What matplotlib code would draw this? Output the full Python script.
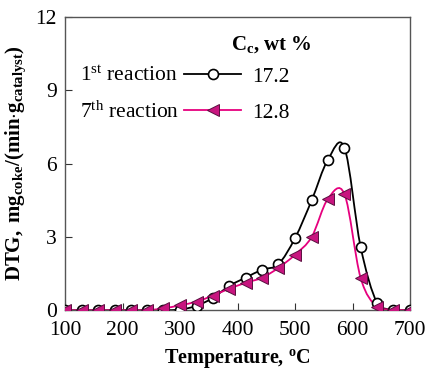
import numpy as np
import matplotlib
matplotlib.use("Agg")
import matplotlib.pyplot as plt
from matplotlib.path import Path
from matplotlib.patches import PathPatch

plt.rcParams['font.family'] = ['Liberation Serif', 'DejaVu Serif']
plt.rcParams['mathtext.fontset'] = 'custom'
plt.rcParams['mathtext.rm'] = 'Liberation Serif'
plt.rcParams['mathtext.it'] = 'Liberation Serif:italic'
plt.rcParams['mathtext.bf'] = 'Liberation Serif:bold'

# Data
temperature = [100, 129, 157, 186, 214, 243, 271, 300, 329, 357, 386,
               414, 443, 471, 500, 529, 557, 586, 614, 643, 671, 700]
dtg_1st = [0.0, 0.0, 0.0, 0.0, 0.0, 0.0, 0.0, 0.02, 0.18, 0.5, 1.0,
           1.33, 1.66, 1.88, 2.95, 4.5, 6.15, 6.65, 2.6, 0.28, 0.0, 0.0]
dtg_7th = [0.0, 0.0, 0.0, 0.0, 0.0, 0.0, 0.07, 0.2, 0.35, 0.6, 0.88,
           1.12, 1.33, 1.73, 2.27, 3.0, 4.55, 4.75, 1.33, 0.12, 0.02, 0.0]
series_labels = ["17.2", "12.8"]
reaction_labels = [r"1$^{\mathrm{st}}$ reaction", r"7$^{\mathrm{th}}$ reaction"]

black = "#000000"
pink = "#E6007E"
pink_face = "#C8157F"

def smooth_path(xs, ys):
    xs = np.asarray(xs, float); ys = np.asarray(ys, float)
    verts = [(xs[0], ys[0])]
    codes = [Path.MOVETO]
    n = len(xs)
    for i in range(n - 1):
        x0, y0 = (xs[i-1], ys[i-1]) if i > 0 else (xs[i], ys[i])
        x1, y1 = xs[i], ys[i]
        x2, y2 = xs[i+1], ys[i+1]
        x3, y3 = (xs[i+2], ys[i+2]) if i + 2 < n else (xs[i+1], ys[i+1])
        c1 = (x1 + (x2 - x0) / 6.0, max(0, y1 + (y2 - y0) / 6.0))
        c2 = (x2 - (x3 - x1) / 6.0, max(0, y2 - (y3 - y1) / 6.0))
        verts += [c1, c2, (x2, y2)]
        codes += [Path.CURVE4] * 3
    return Path(verts, codes)

fig = plt.figure(figsize=(4.28, 3.71), dpi=100)
ax = fig.add_axes([0.152, 0.164, 0.806, 0.79])

ax.add_patch(PathPatch(smooth_path(temperature, dtg_1st), fill=False,
                       edgecolor=black, lw=1.3, zorder=2))
ax.add_patch(PathPatch(smooth_path(temperature, dtg_7th), fill=False,
                       edgecolor=pink, lw=1.3, zorder=2))
ax.plot(temperature, dtg_1st, linestyle='none', marker='o', ms=7.2,
        mfc='white', mec=black, mew=1.2, zorder=3)
ax.plot(temperature, dtg_7th, linestyle='none', marker='<', ms=8,
        mfc=pink_face, mec='#5a1040', mew=0.7, zorder=4)

# legend proxies
h1, = ax.plot([], [], color=black, lw=1.3, marker='o', ms=7.2, mfc='white', mec=black, mew=1.2)
h2, = ax.plot([], [], color=pink, lw=1.3, marker='<', ms=8, mfc=pink_face, mec='#5a1040', mew=0.7)
leg = ax.legend([h1, h2], series_labels, loc='upper left',
                bbox_to_anchor=(0.345, 0.83), frameon=False, fontsize=15.5,
                handlelength=2.65, labelspacing=0.72, handletextpad=0.5,
                borderaxespad=0, borderpad=0)
ax.text(0.043, 0.797, reaction_labels[0], transform=ax.transAxes,
        fontsize=15.5, va='center', ha='left')
ax.text(0.043, 0.677, reaction_labels[1], transform=ax.transAxes,
        fontsize=15.5, va='center', ha='left')
ax.text(0.48, 0.905, r"$\mathbf{C_c}$, wt %", transform=ax.transAxes,
        fontsize=15, fontweight='bold', va='center', ha='left')

ax.set_xlim(100, 700)
ax.set_ylim(0, 12)
ax.set_xticks([100, 200, 300, 400, 500, 600, 700])
ax.set_yticks([0, 3, 6, 9, 12])
ax.tick_params(direction='in', length=5, width=0.8, labelsize=15.5,
               colors='#333333', labelcolor='black')
ax.tick_params(axis='x', pad=8)
ax.tick_params(axis='y', pad=6)
for s in ax.spines.values():
    s.set_color('#555555')
    s.set_linewidth(1.0)

ax.set_xlabel(r"Temperature, $\mathregular{^o}$C", fontsize=14.5, fontweight='bold', labelpad=5)
ax.set_ylabel(r"$\mathbf{DTG,\ mg_{coke}/(min{\cdot}g_{catalyst})}$", fontsize=15, labelpad=5)

fig.savefig("out.png", dpi=100)
